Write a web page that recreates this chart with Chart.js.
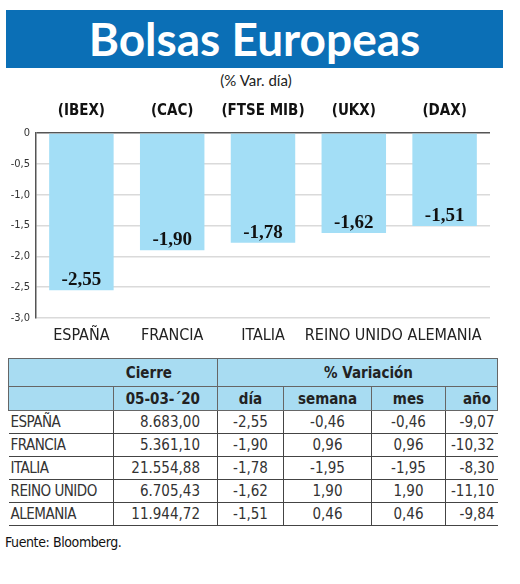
<!DOCTYPE html>
<html>
<head>
<meta charset="utf-8">
<script src="https://cdn.jsdelivr.net/npm/chart.js@4.4.1/dist/chart.umd.min.js"></script>
<style>
  body { margin: 0; width: 520px; height: 584px; background: #fff; position: relative; overflow: hidden; }
  #banner { position: absolute; left: 6px; top: 10px; width: 497px; height: 58px; background: #0b6fb6;
    color: #fff; font-family: Lato, sans-serif; font-weight: bold; font-size: 46px; line-height: 58px; text-align: center; }
  #sub { position: absolute; left: 0; top: 71px; width: 512px; text-align: center;
    font-family: Lato, sans-serif; font-size: 15px; color: #222; }
  #chartBox { position: absolute; left: 0; top: 90px; width: 520px; height: 260px; }
  #tbl { position: absolute; left: 8px; top: 358px; border-collapse: collapse; table-layout: fixed;
    font-family: "DejaVu Sans Condensed", sans-serif; font-size: 15px; color: #333; white-space: nowrap; }
  #tbl th { background: #a8dcf2; font-weight: bold; color: #222; border: 1px solid #666; padding: 0; }
  #tbl td { border-bottom: 1px solid #444; border-left: 1px solid #444; padding: 0 3px; height: 22px; line-height: 22px; overflow: hidden; }
  #tbl td:first-child { border-left: none; text-align: left; padding-left: 2px; letter-spacing: -0.5px; }
  #src { position: absolute; left: 5px; top: 534px; font-family: "DejaVu Sans Condensed", sans-serif; font-size: 14px; color: #111; letter-spacing: -0.4px; }
</style>
</head>
<body>
<div id="banner">Bolsas Europeas</div>
<div id="sub">(% Var. día)</div>
<div id="chartBox"><canvas id="barChart"></canvas></div>
<table id="tbl"></table>
<div id="src">Fuente: Bloomberg.</div>
<script>
const countries = ['ESPAÑA', 'FRANCIA', 'ITALIA', 'REINO UNIDO', 'ALEMANIA'];
const indices = ['(IBEX)', '(CAC)', '(FTSE MIB)', '(UKX)', '(DAX)'];
const dayChange = [-2.55, -1.90, -1.78, -1.62, -1.51];
const closeValues = ['8.683,00', '5.361,10', '21.554,88', '6.705,43', '11.944,72'];
const weekChange = [-0.46, 0.96, -1.95, 1.90, 0.46];
const monthChange = [-0.46, 0.96, -1.95, 1.90, 0.46];
const yearChange = [-9.07, -10.32, -8.30, -11.10, -9.84];
const closeDate = '05-03-´20';

const fmt = (v, d) => v.toFixed(d).replace('.', ',');
const narrow = '"DejaVu Sans Condensed", sans-serif';

// tabla
function buildTable() {
    const t = document.getElementById('tbl');
    const widths = [105, 104, 66, 88, 74, 52];
    let html = '<colgroup>' + widths.map(w => `<col style="width:${w}px">`).join('') + '</colgroup>';
    html += '<tr style="height:28px"><th colspan="2" style="text-align:right;padding-right:45px">Cierre</th>'
          + '<th colspan="4" style="padding-left:22px">% Variación</th></tr>';
    html += `<tr style="height:24px"><th style="border-right:none"></th><th style="text-align:right;padding-right:17px">${closeDate}</th>`
          + '<th>día</th><th>semana</th><th>mes</th><th style="text-align:right;padding-right:6px">año</th></tr>';
    countries.forEach((c, i) => {
        html += `<tr><td>${c}</td><td style="text-align:right;padding-right:17px">${closeValues[i]}</td>`
              + `<td style="text-align:center">${fmt(dayChange[i], 2)}</td>`
              + `<td style="text-align:center">${fmt(weekChange[i], 2)}</td>`
              + `<td style="text-align:center">${fmt(monthChange[i], 2)}</td>`
              + `<td style="text-align:right">${fmt(yearChange[i], 2)}</td></tr>`;
    });
    t.innerHTML = html;
}
buildTable();

// etiquetas dentro de las barras
const barLabels = {
    id: 'barLabels',
    afterDatasetsDraw(chart) {
        const ctx = chart.ctx;
        const meta = chart.getDatasetMeta(0);
        ctx.save();
        ctx.font = 'bold 19px "Liberation Serif", serif';
        ctx.fillStyle = '#111';
        ctx.textAlign = 'center';
        ctx.textBaseline = 'middle';
        meta.data.forEach((bar, i) => {
            ctx.fillText(fmt(dayChange[i], 2), bar.x, bar.y - 10);
        });
        ctx.restore();
    }
};

const ctx = document.getElementById('barChart').getContext('2d');
new Chart(ctx, {
    type: 'bar',
    data: {
        labels: countries,
        datasets: [{
            data: dayChange,
            backgroundColor: '#a3def6',
            categoryPercentage: 1,
            barPercentage: 0.71
        }]
    },
    options: {
        responsive: true,
        maintainAspectRatio: false,
        animation: false,
        layout: { padding: { left: 0, right: 30, top: 0, bottom: 0 } },
        plugins: { legend: { display: false }, tooltip: { enabled: false } },
        scales: {
            x: {
                position: 'bottom',
                grid: { display: false },
                border: { display: false },
                ticks: { color: '#222', padding: 0, maxRotation: 0, autoSkip: false,
                         font: { family: narrow, size: 16 } },
                afterFit(s) { s.height = 32; }
            },
            xTop: {
                type: 'category',
                position: 'top',
                labels: indices,
                grid: { display: false, drawTicks: false },
                border: { display: false },
                ticks: { color: '#111', padding: 13, maxRotation: 0, autoSkip: false,
                         font: { family: narrow, size: 15, weight: 'bold' } },
                afterFit(s) { s.height = 43; }
            },
            y: {
                min: -3,
                max: 0,
                ticks: {
                    stepSize: 0.5,
                    color: '#333',
                    padding: 6,
                    font: { family: narrow, size: 11 },
                    callback: v => v === 0 ? '0' : fmt(v, 1)
                },
                grid: {
                    drawTicks: false,
                    lineWidth: 1.5,
                    color: c => c.tick && c.tick.value === 0 ? '#555' : '#dadada'
                },
                border: { display: true, color: '#555', width: 1.5 },
                afterFit(s) { s.width = 36; }
            }
        }
    },
    plugins: [barLabels]
});
</script>
</body>
</html>
